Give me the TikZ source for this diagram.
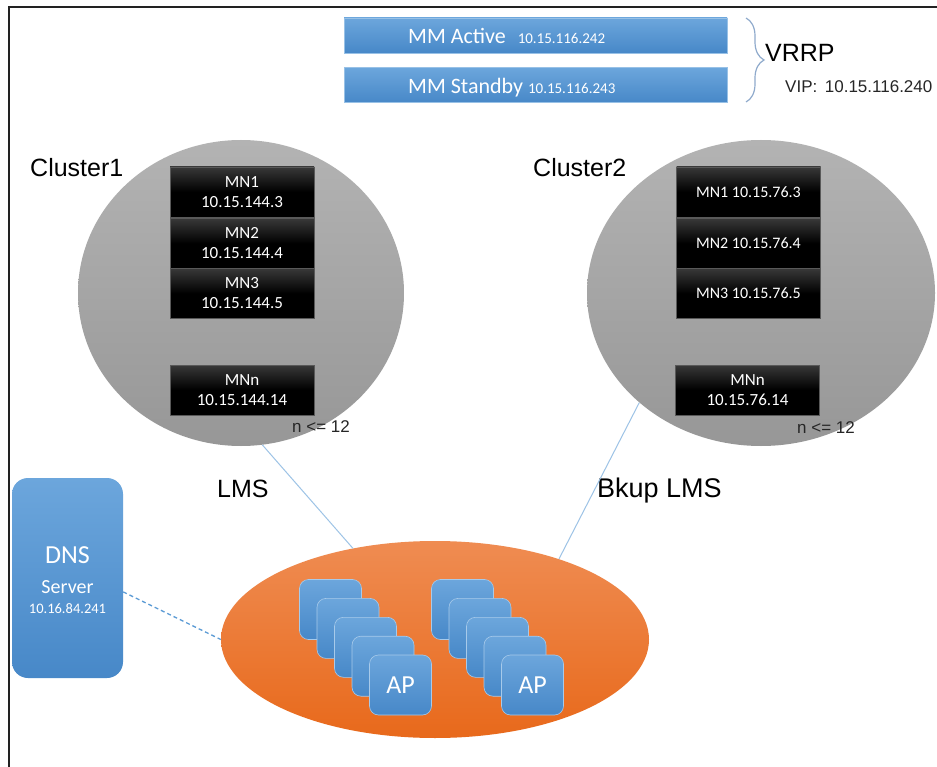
\documentclass[tikz,border=0pt]{standalone}
\usepackage{fontspec}
\setmainfont{Carlito}
\newfontfamily\arialf{Liberation Sans}
\usetikzlibrary{shapes.geometric,decorations.pathreplacing}
\definecolor{bluetop}{HTML}{6CA6DC}
\definecolor{bluebot}{HTML}{4788C8}
\definecolor{oratop}{HTML}{EF8C52}
\definecolor{orabot}{HTML}{E8691B}
\definecolor{graytop}{HTML}{B3B3B3}
\definecolor{graybot}{HTML}{979797}
\definecolor{linkblue}{HTML}{9DC3E6}
\definecolor{dashblue}{HTML}{5B9BD5}
\definecolor{bracecol}{HTML}{8FAACC}
\definecolor{frame}{HTML}{222222}
\begin{document}
\begin{tikzpicture}[x=1pt,y=-1pt,
  mmbox/.style={rectangle,inner sep=0,minimum width=383pt,minimum height=35pt,
    top color=bluetop,bottom color=bluebot,draw=bluetop!70!white,line width=0.6pt},
  mmtext/.style={anchor=base west,inner sep=0,text=white,font=\fontsize{22}{26}\selectfont},
  mnbox/.style={rectangle,inner sep=0,minimum width=144pt,minimum height=50pt,
    top color=black!78,bottom color=black,middle color=black,draw=black!65,line width=0.6pt,
    text=white,align=center,font=\fontsize{17}{20}\selectfont},
  mnboxb/.style={mnbox,font=\fontsize{16}{20}\selectfont},
  cluster/.style={ellipse,inner sep=0,top color=graytop,bottom color=graybot},
  apbox/.style={rectangle,rounded corners=9pt,inner sep=0,minimum width=62pt,minimum height=60pt,
    top color=bluetop,bottom color=bluebot,draw=bluetop!60!white,line width=0.6pt,
    text=white,font=\fontsize{26}{30}\selectfont},
  lbl/.style={anchor=base west,inner sep=0,font=\arialf\fontsize{25}{30}\selectfont,text=black},
  small/.style={anchor=base west,inner sep=0,font=\arialf\fontsize{17}{20}\selectfont,text=black!85},
  link/.style={draw=linkblue,line width=1pt},
  dashlink/.style={draw=dashblue,line width=1.3pt,dash pattern=on 4pt off 3pt}
]
\useasboundingbox (0,0) rectangle (937,767);
\fill[white] (0,0) rectangle (937,767);
% frame
\draw[frame,line width=2.5pt] (9,767) -- (9,7) -- (937,7);

% MM boxes
\node[mmbox] (mma) at (535.5,35.5) {};
\node[mmbox] (mms) at (535.5,85) {};
\node[mmtext] (mmat) at (408,44) {MM Active\hspace{12pt}{\fontsize{15}{18}\selectfont 10.15.116.242}};
\node[mmtext] (mmst) at (408,93.5) {MM Standby {\fontsize{15}{18}\selectfont 10.15.116.243}};
% brace
\coordinate (brtop) at (746,18);
\coordinate (brbot) at (746,102);
\draw[bracecol,line width=1.2pt,decorate,decoration={brace,amplitude=18pt}] (brtop) -- (brbot);
\node[lbl] (vrrp) at (765,62) {VRRP};
\node[small] (vip) at (785,93) {VIP:\, 10.15.116.240};

% clusters
\node[cluster,minimum width=326pt,minimum height=306pt] (c1) at (241,293) {};
\node[cluster,minimum width=348pt,minimum height=306pt] (c2) at (761,293) {};
\node[lbl] (c1l) at (30,177) {Cluster1};
\node[lbl] (c2l) at (533,177) {Cluster2};

% cluster1 members
\node[mnbox] (a1) at (242,192) {MN1\\10.15.144.3};
\node[mnbox] (a2) at (242,243.5) {MN2\\10.15.144.4};
\node[mnbox] (a3) at (242,293.5) {MN3\\10.15.144.5};
\node[mnbox] (an) at (242,390) {MNn\\10.15.144.14};
\node[small] (n1) at (292,432) {n <= 12};
% cluster2 members
\node[mnboxb] (b1) at (748.5,192) {MN1 10.15.76.3};
\node[mnboxb] (b2) at (748.5,243.5) {MN2 10.15.76.4};
\node[mnboxb] (b3) at (748.5,293.5) {MN3 10.15.76.5};
\node[mnbox] (bn) at (747.5,390) {MNn\\10.15.76.14};
\node[small] (n2) at (797,433) {n <= 12};

% labels
\node[lbl] (lms) at (217,497) {LMS};
\node[lbl,font=\arialf\fontsize{27}{32}\selectfont] (blms) at (597,497) {Bkup LMS};

% AP network
\node[ellipse,inner sep=0,minimum width=428pt,minimum height=197pt,top color=oratop,bottom color=orabot] (net) at (435,639.5) {};
\foreach \i in {0,...,3}{
  \node[apbox] (pa\i) at (330.5+\i*17.5,609.5+\i*18.9) {};
}
\node[apbox] (pa4) at (400.5,685) {AP};
\foreach \i in {0,...,3}{
  \node[apbox] (pb\i) at (462.5+\i*17.5,609.5+\i*18.9) {};
}
\node[apbox] (pb4) at (532.5,685) {AP};

% DNS
\node[rectangle,rounded corners=16pt,inner sep=0,minimum width=111pt,minimum height=200pt,
  top color=bluetop,bottom color=bluebot] (dns) at (67.5,578) {};
\node[anchor=base,inner sep=0,text=white,font=\fontsize{26}{30}\selectfont] (dnst1) at (67.5,563) {DNS};
\node[anchor=base,inner sep=0,text=white,font=\fontsize{20}{24}\selectfont] (dnst2) at (67.5,593) {Server};
\node[anchor=base,inner sep=0,text=white,font=\fontsize{14.5}{17}\selectfont] (dnst3) at (67.5,613) {10.16.84.241};

% connectors
\draw[link] (c1.-82) -- (net.132);
\draw[link] (c2.222) -- (net.33);
\draw[dashlink] (dns.-14) -- (net.west);
\end{tikzpicture}
\end{document}
